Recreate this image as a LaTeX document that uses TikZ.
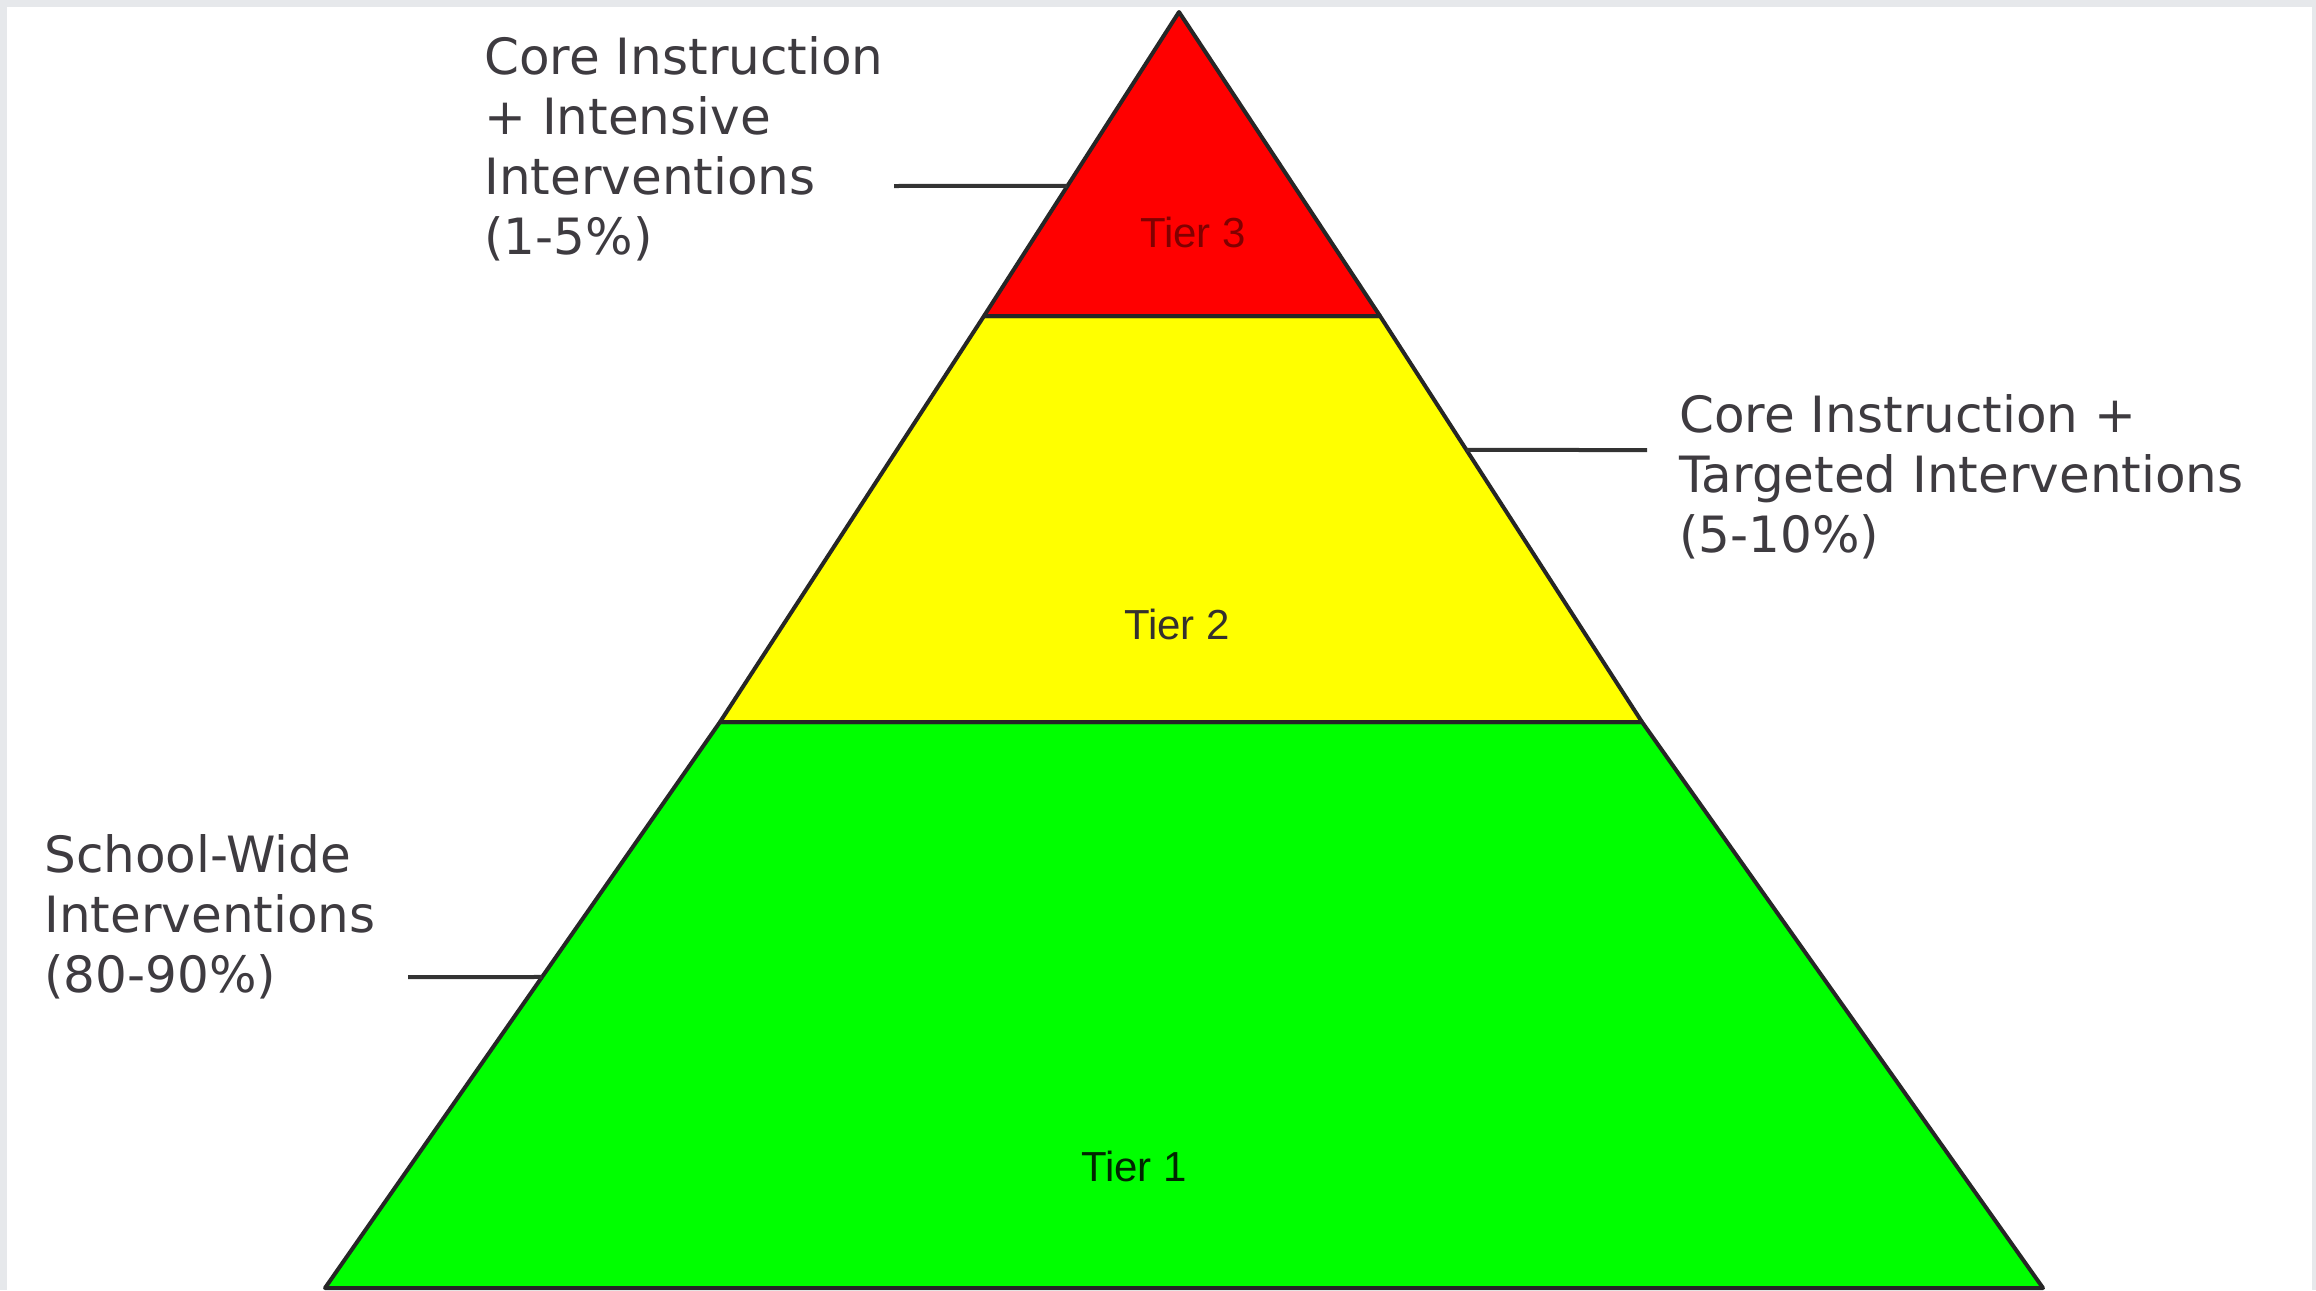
\documentclass[tikz,border=0pt]{standalone}
\usepackage{fontspec}
\setmainfont{DejaVu Sans}
\newfontfamily\tierfont{Liberation Sans}
\usetikzlibrary{calc}
\definecolor{framegray}{HTML}{E6E8EB}
\definecolor{labeltext}{HTML}{3E3B40}
\definecolor{tierred}{HTML}{FF0000}
\definecolor{tieryellow}{HTML}{FFFF00}
\definecolor{tiergreen}{HTML}{00FF00}
\definecolor{connectorgray}{HTML}{333333}
\tikzset{
  tierline/.style={draw=black!85, line width=2pt, line join=round},
  sidelabel/.style={font=\fontsize{25}{30}\selectfont, text=labeltext, align=left, inner sep=0pt, anchor=north west},
  tierlabel/.style={font=\tierfont\fontsize{21}{24}\selectfont, inner sep=0pt},
  connector/.style={draw=connectorgray, line width=2pt}
}
\begin{document}
\begin{tikzpicture}[x=0.5pt,y=-0.5pt]
\fill[framegray] (0,0) rectangle (2316,1290);
\fill[white] (7,7) rectangle (2312,1290);
\useasboundingbox (0,0) rectangle (2316,1290);
% pyramid corners
\coordinate (apex) at (1179,12);
\coordinate (r3l) at (984,316);
\coordinate (r3r) at (1380,316);
\coordinate (y2l) at (720,722);
\coordinate (y2r) at (1642,722);
\coordinate (bl) at (325,1288);
\coordinate (br) at (2043,1288);
% tiers
\filldraw[tierline, fill=tiergreen] (y2l) -- (y2r) -- (br) -- (bl) -- cycle;
\filldraw[tierline, fill=tieryellow] (r3l) -- (r3r) -- (y2r) -- (y2l) -- cycle;
\filldraw[tierline, fill=tierred] (apex) -- (r3r) -- (r3l) -- cycle;
% tier labels
\node[tierlabel, text=red!50!black] (t3) at (1193,232) {Tier 3};
\node[tierlabel, text=black!92!yellow] (t2) at (1177,624) {Tier 2};
\node[tierlabel, text=black!85!green] (t1) at (1134,1166) {Tier 1};
% side labels
\node[sidelabel] (l3) at (484,36) {Core Instruction\\+ Intensive\\Interventions\\(1-5\%)};
\node[sidelabel] (l2) at (1679,394) {Core Instruction +\\Targeted Interventions\\(5-10\%)};
\node[sidelabel] (l1) at (44,834) {School-Wide\\Interventions\\(80-90\%)};
% connectors
\coordinate (c3) at (894,186);
\coordinate (e3) at ($(apex)!0.572!(r3l)$);
\coordinate (c2) at (1647,450);
\coordinate (e2) at ($(r3r)!0.330!(y2r)$);
\coordinate (c1) at (408,977);
\coordinate (e1) at ($(y2l)!0.4505!(bl)$);
\draw[connector] (c3) -- (e3);
\draw[connector] (e2) -- (c2);
\draw[connector] (c1) -- (e1);
\end{tikzpicture}
\end{document}
